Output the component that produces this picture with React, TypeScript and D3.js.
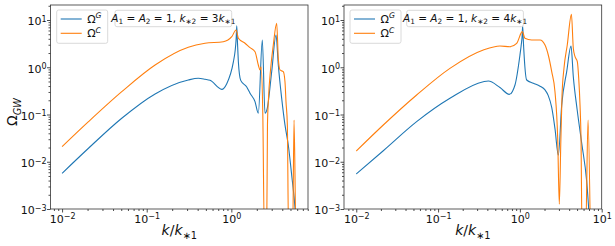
import React, { useEffect, useRef } from "react";
import * as d3 from "d3";

// k / k*1 and Omega, left panel: k*2 = 3 k*1
const kG3 = [0.01, 0.0205, 0.0507, 0.1256, 0.31, 0.407, 0.489, 0.56, 0.771, 0.883, 1.057, 1.109, 1.14, 1.159, 1.18, 1.194, 1.211, 1.291, 1.521, 1.663, 1.905, 2.084, 2.323, 2.5, 2.661, 2.999, 3.373, 3.589, 3.936, 4.305, 4.71, 5.164, 5.728, 5.902];
const omegaG3 = [0.00569, 0.0193, 0.0832, 0.272, 0.537, 0.583, 0.556, 0.528, 0.34, 0.45, 1.297, 2.239, 3.981, 7.568, 3.548, 2.239, 1.297, 0.528, 0.382, 0.281, 0.187, 0.106, 3.776, 0.106, 0.137, 0.805, 4.819, 1.117, 0.22, 0.0603, 0.0226, 0.00525, 0.00079, 0.00032];
const kC3 = [0.01, 0.0205, 0.0507, 0.1256, 0.31, 0.489, 0.804, 1.012, 1.138, 1.211, 1.452, 1.663, 1.905, 2.084, 2.183, 2.244, 2.355, 2.455, 2.618, 2.673, 2.735, 2.917, 3.133, 3.436, 3.589, 3.758, 4.111, 4.305, 4.426, 4.592, 4.742, 5.309, 5.508, 5.808, 5.902];
const omegaC3 = [0.0209, 0.0705, 0.304, 1.117, 2.642, 3.214, 3.475, 4.436, 6.138, 4.102, 3.214, 2.594, 2.133, 1.117, 0.875, 1.028, 0.1, 0.00032, 0.00032, 0.0603, 0.187, 0.951, 2.958, 8.511, 1.545, 0.875, 0.805, 0.494, 0.187, 0.0603, 0.00032, 0.00032, 0.0766, 0.00032, 0.00032];

// right panel: k*2 = 4 k*1
const kG4 = [0.01, 0.0214, 0.0547, 0.1396, 0.357, 0.411, 0.571, 0.741, 0.871, 1.002, 1.035, 1.064, 1.081, 1.099, 1.114, 1.132, 1.211, 1.459, 1.762, 2.028, 2.223, 2.449, 2.685, 2.951, 3.243, 3.733, 4.217, 4.498, 5.012, 5.689, 6.561, 7.079, 7.311];
const omegaG4 = [0.00551, 0.0171, 0.0705, 0.22, 0.495, 0.512, 0.372, 0.267, 0.421, 1.816, 2.818, 4.467, 7.568, 3.981, 2.512, 1.545, 0.537, 0.457, 0.398, 0.331, 0.251, 0.141, 0.0501, 0.0138, 0.158, 0.805, 2.818, 0.631, 0.126, 0.0251, 0.0038, 0.00063, 0.00032];
const kC4 = [0.01, 0.0214, 0.0547, 0.1396, 0.357, 0.571, 0.757, 0.914, 1.072, 1.153, 1.393, 1.762, 2.028, 2.223, 2.449, 2.685, 2.897, 3.034, 3.162, 3.273, 3.459, 3.793, 4.266, 4.498, 4.721, 5.035, 5.236, 5.433, 5.585, 5.754, 6.368, 6.808, 7.261];
const omegaC4 = [0.0169, 0.06, 0.259, 0.948, 2.317, 2.818, 2.723, 3.206, 5.662, 4.093, 3.776, 3.776, 2.958, 1.816, 0.805, 0.304, 0.0316, 0.00126, 0.0251, 0.251, 0.951, 2.958, 13.18, 2.512, 1.675, 1.312, 0.583, 0.158, 0.0316, 0.00032, 0.00032, 0.0764, 0.00032];

const yTicks = [1e-3, 1e-2, 1e-1, 1, 10];
const xTicks3 = [1e-2, 1e-1, 1];
const xTicks4 = [1e-2, 1e-1, 1, 10];
const ratios = ["3", "4"];
const legendNames = ["G", "C"];

const BLUE = "#1f77b4";
const ORANGE = "#ff7f0e";
const FONT = "DejaVu Sans, sans-serif";
const TOP = 5;
const BOTTOM = 209;

type Seg = { t: string; it?: boolean; s?: number };

function rich(sel: any, segs: Seg[], size: number) {
  let cur = 0;
  segs.forEach((sg) => {
    const off = sg.s === 1 ? -size * 0.42 : sg.s === -1 ? size * 0.28 : 0;
    sel
      .append("tspan")
      .attr("dy", off - cur)
      .attr("font-style", sg.it ? "italic" : "normal")
      .attr("font-size", sg.s ? size * 0.7 : size)
      .text(sg.t);
    cur = off;
  });
}

function minorTicks(domain: number[]) {
  const out: number[] = [];
  for (let e = Math.floor(Math.log10(domain[0])); e <= Math.ceil(Math.log10(domain[1])); e++) {
    for (let m = 2; m <= 9; m++) {
      const v = m * Math.pow(10, e);
      if (v >= domain[0] && v <= domain[1]) out.push(v);
    }
  }
  return out;
}

function supLabels(axis: any) {
  axis.selectAll(".tick text").each(function (this: any, d: any) {
    const t = d3.select(this);
    const e = Math.round(Math.log10(d));
    t.text(null);
    t.append("tspan").text("10");
    t.append("tspan")
      .attr("dy", "-0.45em")
      .attr("font-size", "8px")
      .text(e < 0 ? "\u2212" + -e : String(e));
  });
}

function App() {
  const chart = useRef<SVGSVGElement>(null);

  function drawChart() {
    const svg = d3.select(chart.current);
    svg.selectAll("*").remove();
    svg.append("rect").attr("width", 615).attr("height", 246).attr("fill", "white");

    const panels = [
      { left: 50.5, right: 308, xlim: [10 ** -2.137, 10 ** 0.906], xticks: xTicks3, kG: kG3, oG: omegaG3, kC: kC3, oC: omegaC3, legX: 56.7, noteX: 115 },
      { left: 344, right: 601.7, xlim: [10 ** -2.15, 10 ** 1.0], xticks: xTicks4, kG: kG4, oG: omegaG4, kC: kC4, oC: omegaC4, legX: 350, noteX: 406.7 },
    ];

    panels.forEach((p, i) => {
      const x = d3.scaleLog().domain(p.xlim).range([p.left, p.right]);
      const y = d3.scaleLog().domain([1e-3, 10 ** 1.3175]).range([BOTTOM, TOP]);

      const clipId = "clip" + i;
      svg
        .append("clipPath")
        .attr("id", clipId)
        .append("rect")
        .attr("x", p.left)
        .attr("y", TOP)
        .attr("width", p.right - p.left)
        .attr("height", BOTTOM - TOP);

      const line = d3
        .line<[number, number]>()
        .x((d) => x(d[0]))
        .y((d) => y(d[1]))
        .curve(d3.curveMonotoneX);

      const g = svg.append("g").attr("clip-path", `url(#${clipId})`);
      g.append("path")
        .attr("d", line(d3.zip(p.kG, p.oG) as [number, number][]))
        .attr("fill", "none")
        .attr("stroke", BLUE)
        .attr("stroke-width", 1.1);
      g.append("path")
        .attr("d", line(d3.zip(p.kC, p.oC) as [number, number][]))
        .attr("fill", "none")
        .attr("stroke", ORANGE)
        .attr("stroke-width", 1.1);

      // minor ticks
      const mx = svg
        .append("g")
        .attr("transform", `translate(0,${BOTTOM})`)
        .call(d3.axisBottom(x).tickValues(minorTicks(p.xlim)).tickSize(2).tickFormat(() => ""));
      const my = svg
        .append("g")
        .attr("transform", `translate(${p.left},0)`)
        .call(d3.axisLeft(y).tickValues(minorTicks(y.domain())).tickSize(2).tickFormat(() => ""));

      // major ticks
      const ax = svg
        .append("g")
        .attr("transform", `translate(0,${BOTTOM})`)
        .call(d3.axisBottom(x).tickValues(p.xticks).tickSize(3.5).tickPadding(2.5));
      const ay = svg
        .append("g")
        .attr("transform", `translate(${p.left},0)`)
        .call(d3.axisLeft(y).tickValues(yTicks).tickSize(3.5).tickPadding(0.5));

      [mx, my, ax, ay].forEach((a) => {
        a.select(".domain").remove();
        a.selectAll("line").attr("stroke", "#222").attr("stroke-width", 0.8);
        a.attr("font-family", FONT).attr("font-size", 11);
        a.selectAll("text").attr("fill", "#111");
      });
      supLabels(ax);
      supLabels(ay);
      ay.selectAll(".tick text").attr("dy", "0.45em");

      // frame
      svg
        .append("rect")
        .attr("x", p.left)
        .attr("y", TOP)
        .attr("width", p.right - p.left)
        .attr("height", BOTTOM - TOP)
        .attr("fill", "none")
        .attr("stroke", "#333")
        .attr("stroke-width", 0.8);

      // legend
      const leg = svg.append("g").attr("font-family", FONT);
      leg
        .append("rect")
        .attr("x", p.legX)
        .attr("y", 10)
        .attr("width", 51)
        .attr("height", 33.3)
        .attr("rx", 2)
        .attr("fill", "white")
        .attr("fill-opacity", 0.8)
        .attr("stroke", "#d0d0d0")
        .attr("stroke-width", 0.8);
      legendNames.forEach((name, j) => {
        const ly = 19 + j * 14.3;
        leg
          .append("line")
          .attr("x1", p.legX + 4)
          .attr("x2", p.legX + 25)
          .attr("y1", ly)
          .attr("y2", ly)
          .attr("stroke", j === 0 ? BLUE : ORANGE)
          .attr("stroke-width", 1.1);
        const t = leg
          .append("text")
          .attr("x", p.legX + 30.5)
          .attr("y", ly + 4)
          .attr("fill", "#111");
        rich(t, [{ t: "\u03a9" }, { t: name, it: true, s: 1 }], 11);
      });

      // annotation box
      const note = svg.append("g").attr("font-family", FONT);
      note
        .append("rect")
        .attr("x", p.noteX)
        .attr("y", 10.3)
        .attr("width", 116.7)
        .attr("height", 16.4)
        .attr("rx", 2)
        .attr("fill", "white")
        .attr("fill-opacity", 0.8)
        .attr("stroke", "#d0d0d0")
        .attr("stroke-width", 0.8);
      const nt = note
        .append("text")
        .attr("x", p.noteX + 58.35)
        .attr("y", 21.5)
        .attr("text-anchor", "middle")
        .attr("fill", "#111");
      rich(
        nt,
        [
          { t: "A", it: true },
          { t: "1", s: -1 },
          { t: " = " },
          { t: "A", it: true },
          { t: "2", s: -1 },
          { t: " = 1, " },
          { t: "k", it: true },
          { t: "\u22172", s: -1 },
          { t: " = " + ratios[i] },
          { t: "k", it: true },
          { t: "\u22171", s: -1 },
        ],
        10.5
      );

      // x label
      const xl = svg
        .append("text")
        .attr("x", (p.left + p.right) / 2)
        .attr("y", 235)
        .attr("text-anchor", "middle")
        .attr("font-family", FONT)
        .attr("fill", "#111");
      rich(xl, [{ t: "k", it: true }, { t: "/" }, { t: "k", it: true }, { t: "\u22171", s: -1 }], 14);
    });

    // y label
    const yl = svg
      .append("text")
      .attr("transform", "translate(17,112) rotate(-90)")
      .attr("text-anchor", "middle")
      .attr("font-family", FONT)
      .attr("fill", "#111");
    rich(yl, [{ t: "\u03a9" }, { t: "GW", it: true, s: -1 }], 14);
  }

  useEffect(() => {
    drawChart();
  }, []);

  return (
    <svg
      ref={chart}
      width={615}
      height={246}
      style={{ position: "absolute", left: 0, top: 0 }}
    />
  );
}

export default App;
